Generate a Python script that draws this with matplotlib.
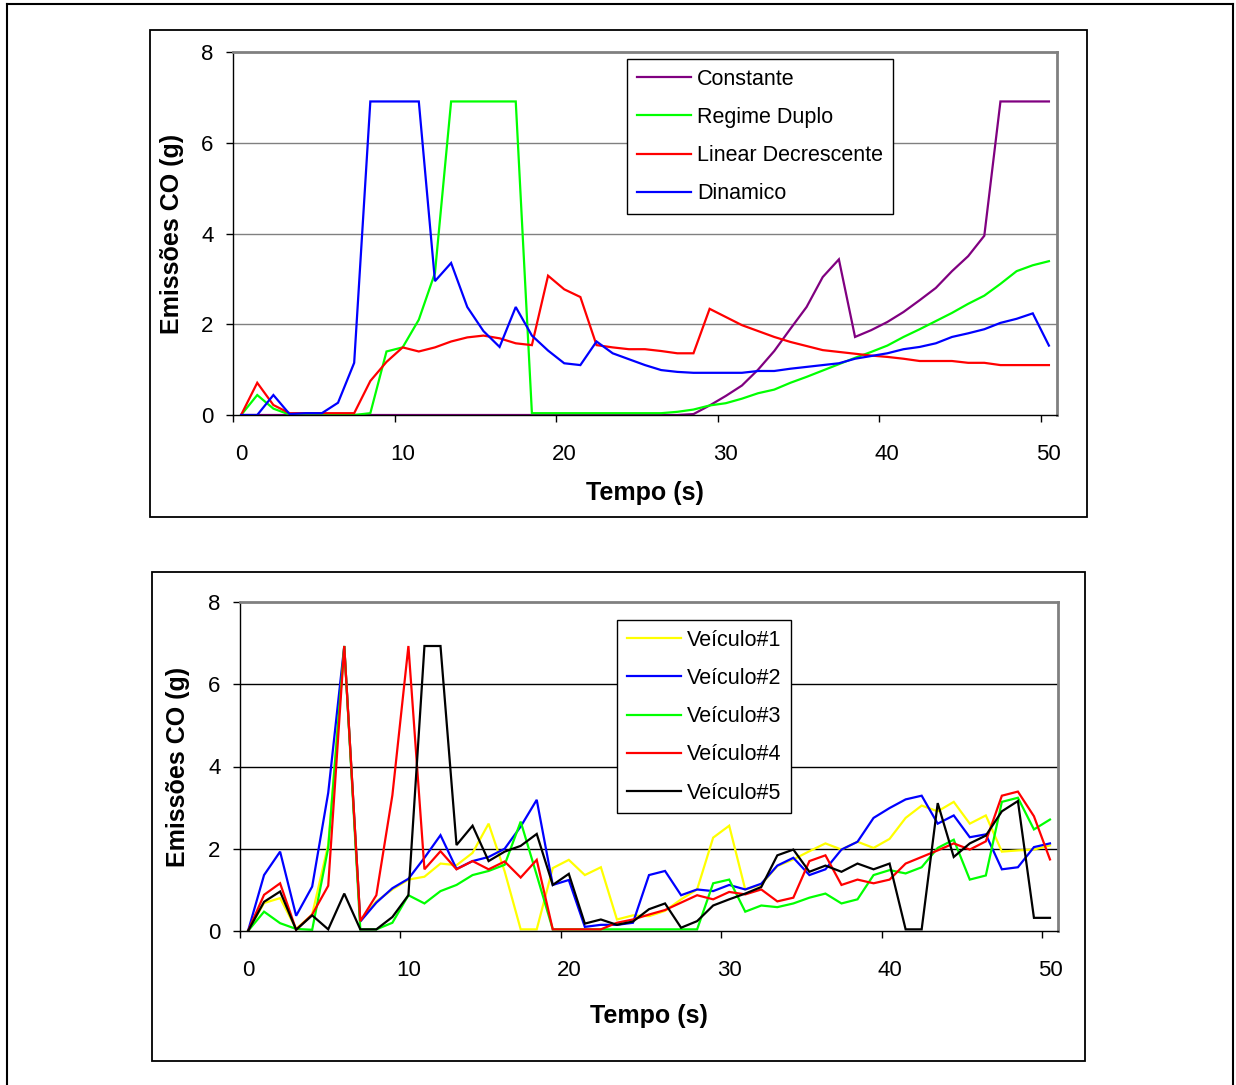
import numpy as np
import matplotlib
matplotlib.use('Agg')
import matplotlib.pyplot as plt
from matplotlib.patches import Rectangle
from matplotlib.lines import Line2D
from matplotlib.ticker import FixedLocator

plt.rcParams['font.family'] = ['Liberation Sans', 'DejaVu Sans']

tempo = np.arange(51)

# emissoes por estrategia de controle
constante = [0, 0, 0, 0, 0, 0, 0, 0, 0, 0,
             0, 0, 0, 0, 0, 0, 0, 0, 0, 0,
             0, 0, 0, 0, 0, 0, 0, 0, 0.02, 0.21,
             0.42, 0.65, 1.0, 1.41, 1.90, 2.38, 3.04, 3.43, 1.72, 1.87,
             2.05, 2.27, 2.53, 2.80, 3.17, 3.50, 3.95, 6.91, 6.91, 6.91,
             6.91]
regime_duplo = [0, 0.44, 0.14, 0.01, 0, 0, 0, 0, 0.04, 1.40,
                1.49, 2.10, 3.13, 6.91, 6.91, 6.91, 6.91, 6.91, 0.04, 0.04,
                0.04, 0.04, 0.04, 0.04, 0.04, 0.04, 0.04, 0.07, 0.12, 0.21,
                0.26, 0.36, 0.48, 0.56, 0.71, 0.84, 0.98, 1.12, 1.26, 1.39,
                1.53, 1.72, 1.89, 2.07, 2.25, 2.45, 2.63, 2.89, 3.17, 3.30,
                3.39]
linear_decrescente = [0, 0.71, 0.22, 0.04, 0.04, 0.04, 0.04, 0.04, 0.75, 1.17,
                      1.49, 1.40, 1.49, 1.62, 1.71, 1.75, 1.69, 1.58, 1.54, 3.07,
                      2.77, 2.60, 1.54, 1.49, 1.45, 1.45, 1.41, 1.36, 1.36, 2.34,
                      2.16, 1.98, 1.85, 1.72, 1.61, 1.52, 1.43, 1.39, 1.35, 1.31,
                      1.28, 1.24, 1.19, 1.19, 1.19, 1.15, 1.15, 1.10, 1.10, 1.10,
                      1.10]
dinamico = [0, 0, 0.44, 0.02, 0.04, 0.04, 0.27, 1.15, 6.91, 6.91,
            6.91, 6.91, 2.95, 3.35, 2.38, 1.85, 1.50, 2.38, 1.75, 1.42,
            1.14, 1.10, 1.62, 1.36, 1.23, 1.10, 0.99, 0.95, 0.93, 0.93,
            0.93, 0.93, 0.97, 0.97, 1.02, 1.06, 1.10, 1.14, 1.24, 1.30,
            1.36, 1.45, 1.50, 1.58, 1.72, 1.80, 1.89, 2.03, 2.12, 2.24,
            1.53]

# emissoes por veiculo
veiculo1 = [0, 0.68, 0.80, 0.05, 0.40, 2.10, 6.93, 0.25, 0.72, 1.01,
            1.25, 1.32, 1.64, 1.60, 1.90, 2.61, 1.45, 0.04, 0.04, 1.53,
            1.73, 1.36, 1.55, 0.28, 0.38, 0.36, 0.49, 0.77, 1.01, 2.27,
            2.56, 1.01, 1.13, 1.58, 1.74, 1.94, 2.13, 1.98, 2.17, 2.02,
            2.24, 2.75, 3.05, 2.91, 3.14, 2.61, 2.81, 1.93, 1.96, 1.98,
            2.08]
veiculo2 = [0, 1.36, 1.93, 0.37, 1.08, 3.36, 6.93, 0.23, 0.69, 1.04,
            1.27, 1.78, 2.33, 1.51, 1.70, 1.80, 2.00, 2.54, 3.19, 1.12,
            1.24, 0.10, 0.15, 0.15, 0.20, 1.36, 1.46, 0.87, 1.01, 0.97,
            1.12, 1.01, 1.15, 1.59, 1.78, 1.36, 1.50, 1.98, 2.17, 2.75,
            2.99, 3.20, 3.29, 2.61, 2.81, 2.28, 2.35, 1.50, 1.55, 2.04,
            2.13]
veiculo3 = [0, 0.47, 0.19, 0.05, 0.03, 2.02, 6.93, 0.04, 0.04, 0.20,
            0.87, 0.67, 0.97, 1.12, 1.36, 1.46, 1.61, 2.66, 1.36, 0.04,
            0.04, 0.04, 0.04, 0.04, 0.04, 0.04, 0.04, 0.04, 0.04, 1.16,
            1.25, 0.47, 0.62, 0.58, 0.67, 0.81, 0.91, 0.67, 0.77, 1.36,
            1.48, 1.40, 1.55, 2.02, 2.22, 1.25, 1.35, 3.14, 3.24, 2.47,
            2.71]
veiculo4 = [0, 0.88, 1.16, 0.03, 0.40, 1.10, 6.93, 0.24, 0.87, 3.30,
            6.93, 1.50, 1.94, 1.50, 1.70, 1.50, 1.69, 1.30, 1.73, 0.04,
            0.04, 0.04, 0.04, 0.20, 0.28, 0.40, 0.51, 0.69, 0.87, 0.77,
            0.95, 0.89, 1.01, 0.72, 0.81, 1.70, 1.84, 1.12, 1.25, 1.16,
            1.25, 1.64, 1.80, 1.96, 2.13, 1.98, 2.18, 3.29, 3.39, 2.79,
            1.74]
veiculo5 = [0, 0.71, 0.96, 0.03, 0.38, 0.04, 0.91, 0.04, 0.04, 0.34,
            0.87, 6.93, 6.93, 2.09, 2.56, 1.70, 1.93, 2.07, 2.36, 1.12,
            1.39, 0.18, 0.28, 0.15, 0.23, 0.53, 0.67, 0.08, 0.24, 0.62,
            0.77, 0.91, 1.07, 1.84, 1.98, 1.44, 1.59, 1.44, 1.64, 1.50,
            1.64, 0.04, 0.04, 3.11, 1.80, 2.13, 2.32, 2.91, 3.16, 0.32,
            0.32]

series_top = [("Constante", constante, "#800080"),
              ("Regime Duplo", regime_duplo, "#00FF00"),
              ("Linear Decrescente", linear_decrescente, "#FF0000"),
              ("Dinamico", dinamico, "#0000FF")]
series_bottom = [("Veículo#1", veiculo1, "#FFFF00"),
                 ("Veículo#2", veiculo2, "#0000FF"),
                 ("Veículo#3", veiculo3, "#00FF00"),
                 ("Veículo#4", veiculo4, "#FF0000"),
                 ("Veículo#5", veiculo5, "#000000")]

W, H = 1236, 1085
fig = plt.figure(figsize=(W / 100, H / 100), dpi=100)


def px_box(x0, y0, x1, y1):
    # pixel box (top-left origin) -> figure fraction [l, b, w, h]
    return [x0 / W, 1 - y1 / H, (x1 - x0) / W, (y1 - y0) / H]


# outer page frame
for xs, ys in [([7 / W, 7 / W], [0, 1 - 4 / H]),
               ([7 / W, 1233 / W], [1 - 4 / H, 1 - 4 / H]),
               ([1233 / W, 1233 / W], [0, 1 - 4 / H])]:
    fig.add_artist(Line2D(xs, ys, color='black', lw=1.5, transform=fig.transFigure))

# chart boxes
for box in [px_box(150, 30, 1087, 517), px_box(152, 572, 1085, 1061)]:
    fig.add_artist(Rectangle((box[0], box[1]), box[2], box[3], fill=False,
                             edgecolor='black', lw=1.3, transform=fig.transFigure))


def draw(ax, series, grid_color, leg_xy, ylab_x, xlab_y):
    for name, vals, c in series:
        ax.plot(tempo, vals, color=c, lw=1.6, label=name, solid_joinstyle='miter')
    ax.set_xlim(-0.5, 50.5)
    ax.set_ylim(0, 8)
    ax.set_yticks([0, 2, 4, 6, 8])
    ax.set_xticks([0, 10, 20, 30, 40, 50])
    ax.xaxis.set_minor_locator(FixedLocator([-0.5, 9.5, 19.5, 29.5, 39.5, 49.5]))
    ax.tick_params(axis='x', which='major', length=0, pad=21, labelsize=16)
    ax.tick_params(axis='x', which='minor', length=5, width=1, direction='out')
    ax.tick_params(axis='y', length=5, width=1, direction='out', pad=9, labelsize=16)
    for yv in [2, 4, 6]:
        ax.axhline(yv, color=grid_color, lw=1, zorder=0.5)
    ax.spines['top'].set_color('#808080')
    ax.spines['right'].set_color('#808080')
    ax.spines['top'].set_linewidth(2)
    ax.spines['right'].set_linewidth(2)
    ax.spines['left'].set_linewidth(1)
    ax.spines['bottom'].set_linewidth(1)
    ax.set_ylabel("Emissões CO (g)", fontsize=18, fontweight='bold', va='center')
    ax.yaxis.set_label_coords(ylab_x, 0.5)
    ax.set_xlabel("Tempo (s)", fontsize=18, fontweight='bold', va='center')
    ax.xaxis.set_label_coords(0.5, xlab_y)
    leg = ax.legend(loc='upper left', bbox_to_anchor=leg_xy, bbox_transform=fig.transFigure,
                    fontsize=15.5, frameon=True, fancybox=False, framealpha=1,
                    edgecolor='black', handlelength=2.5, handletextpad=0.3,
                    labelspacing=0.8, borderpad=0.45, borderaxespad=0)
    leg.get_frame().set_linewidth(1)
    for h in leg.get_lines():
        h.set_linewidth(1.6)


ax1 = fig.add_axes(px_box(233, 52, 1057, 415))
draw(ax1, series_top, '#808080', (627 / W, 1 - 59 / H), -0.074, -0.215)

ax2 = fig.add_axes(px_box(240, 602, 1058, 931))
draw(ax2, series_bottom, '#000000', (617 / W, 1 - 620 / H), -0.076, -0.258)

plt.savefig("out.png", dpi=100)
